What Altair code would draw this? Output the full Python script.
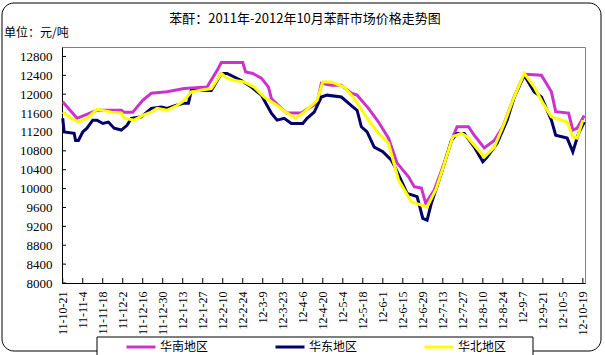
import altair as alt
import pandas as pd

title_text = "苯酐：2011年-2012年10月苯酐市场价格走势图"
unit_text = "单位：元/吨"
start_date = "2011-10-21"
series_names = ["华南地区", "华东地区", "华北地区"]
series_colors = ["#CC33CC", "#000066", "#FFFF00"]

# 华南地区 (days after start, price)
south_days = [0, 10, 24, 41, 43, 49, 56, 62, 73, 85, 101, 108, 111, 126, 128, 133, 139, 144, 146, 153, 157,
              167, 172, 178, 181, 188, 195, 202, 206, 214, 221, 228, 234, 242, 246, 251, 254, 260, 267, 273,
              276, 284, 288, 295, 302, 308, 315, 321, 324, 335, 342, 345, 354, 357, 360, 365]
south_vals = [11840, 11490, 11660, 11660, 11620, 11620, 11870, 12020, 12050, 12120, 12150, 12500, 12670, 12670,
              12470, 12440, 12340, 12150, 11910, 11700, 11600, 11600, 11700, 11810, 12230, 12190, 12190, 12020,
              11980, 11700, 11410, 11070, 10540, 10250, 10040, 10010, 9690, 9970, 10540, 11100, 11310, 11310,
              11130, 10860, 11020, 11310, 11870, 12290, 12420, 12400, 12050, 11630, 11600, 11240, 11280, 11550]

# 华东地区
east_days = [0, 1, 8, 9, 11, 14, 17, 21, 24, 28, 32, 36, 41, 45, 48, 55, 62, 69, 73, 79, 85, 88, 90, 104, 111,
             115, 125, 132, 139, 146, 150, 155, 160, 168, 171, 176, 181, 185, 195, 202, 206, 209, 213, 218, 224,
             230, 233, 241, 248, 252, 255, 258, 265, 272, 276, 281, 288, 294, 297, 304, 311, 316, 323, 330, 335,
             342, 345, 353, 357, 361, 365]
east_vals = [11490, 11200, 11170, 11020, 11020, 11200, 11280, 11450, 11450, 11380, 11410, 11280, 11240, 11340,
             11490, 11520, 11700, 11730, 11700, 11760, 11810, 11810, 12080, 12080, 12440, 12440, 12290, 12150,
             11980, 11600, 11450, 11490, 11380, 11380, 11490, 11620, 11940, 11980, 11940, 11760, 11660, 11310,
             11200, 10880, 10780, 10600, 10430, 9900, 9830, 9370, 9330, 9690, 10330, 11020, 11170, 11170, 10880,
             10570, 10670, 10960, 11450, 11940, 12400, 12050, 11940, 11450, 11130, 11070, 10780, 11170, 11410]

# 华北地区
north_days = [0, 6, 11, 17, 24, 34, 41, 43, 50, 56, 62, 66, 73, 80, 85, 90, 104, 111, 115, 120, 127, 134, 141,
              150, 157, 163, 169, 178, 182, 188, 197, 204, 213, 221, 228, 235, 244, 251, 255, 261, 266, 273, 279,
              283, 295, 302, 309, 315, 323, 330, 336, 342, 353, 357, 360, 364]
north_vals = [11620, 11490, 11410, 11490, 11680, 11620, 11600, 11490, 11450, 11550, 11620, 11700, 11660, 11760,
              11870, 12050, 12120, 12440, 12340, 12290, 12260, 12150, 11940, 11760, 11600, 11490, 11620, 11870,
              12260, 12260, 12150, 11910, 11490, 11170, 10960, 10180, 9720, 9650, 9610, 9970, 10430, 11100, 11170,
              11100, 10670, 10880, 11380, 11870, 12440, 12150, 11810, 11520, 11410, 11100, 11070, 11450]

tick_dates = ["2011-10-21", "2011-11-04", "2011-11-18", "2011-12-02", "2011-12-16", "2011-12-30",
              "2012-01-13", "2012-01-27", "2012-02-10", "2012-02-24", "2012-03-09", "2012-03-23",
              "2012-04-06", "2012-04-20", "2012-05-04", "2012-05-18", "2012-06-01", "2012-06-15",
              "2012-06-29", "2012-07-13", "2012-07-27", "2012-08-10", "2012-08-24", "2012-09-07",
              "2012-09-21", "2012-10-05", "2012-10-19"]
y_ticks = [8000, 8400, 8800, 9200, 9600, 10000, 10400, 10800, 11200, 11600, 12000, 12400, 12800]
y_domain = [8000, 13000]
x_domain = ["2011-10-20T12:00:00", "2012-10-20T12:00:00"]


def to_date(d):
    return (pd.Timestamp(start_date) + pd.Timedelta(days=d)).strftime("%Y-%m-%d")


def to_ms(s):
    return int(pd.Timestamp(s, tz="UTC").timestamp() * 1000)


rows = []
for name, days, vals in zip(series_names, [south_days, east_days, north_days],
                            [south_vals, east_vals, north_vals]):
    for d, v in zip(days, vals):
        rows.append({"date": to_date(d), "price": v, "region": name, "order": series_names.index(name)})
df = pd.DataFrame(rows)

W, H = 523, 236
serif = "Liberation Serif"
cjk = "Noto Sans CJK SC"

x_enc = alt.X("date:T", title=None,
              scale=alt.Scale(type="utc", domain=[to_ms(x_domain[0]), to_ms(x_domain[1])]),
              axis=alt.Axis(values=[to_ms(t) for t in tick_dates],
                            labelExpr="utcFormat(datum.value, '%y-%-m-%-d')",
                            labelAngle=270, labelFont=serif, labelFontSize=12, labelColor="black",
                            labelPadding=8, tickSize=0, domainColor="black", grid=False,
                            labelOverlap=False, labelBound=False, labelFlush=False))
y_enc = alt.Y("price:Q", title=None, scale=alt.Scale(domain=y_domain, nice=False, zero=False),
              axis=alt.Axis(values=y_ticks, format="d", labelFont=serif, labelFontSize=13,
                            labelColor="black", labelPadding=10, tickSize=0, domainColor="black",
                            grid=False, labelOverlap=False, labelFlush=False))

lines = alt.Chart(df).mark_line(strokeWidth=3, interpolate="linear").encode(
    x=x_enc, y=y_enc,
    color=alt.Color("region:N", scale=alt.Scale(domain=series_names, range=series_colors),
                    legend=alt.Legend(orient="none", legendX=63, legendY=284, direction="horizontal",
                                      title=None, symbolType="stroke", symbolSize=841,
                                      symbolStrokeWidth=3, labelFont=cjk, labelFontSize=12,
                                      labelColor="black", columnPadding=60, labelOffset=3,
                                      padding=0, zindex=1)),
    order=alt.Order("order:Q"),
)

ytick_df = pd.DataFrame({"price": y_ticks})
ytick_rules = alt.Chart(ytick_df).mark_rule(color="black", strokeWidth=1).encode(
    y=y_enc, x=alt.value(0), x2=alt.value(4))

xtick_df = pd.DataFrame({"date": tick_dates})
xtick_rules = alt.Chart(xtick_df).mark_rule(color="black", strokeWidth=1).encode(
    x=x_enc, y=alt.value(H - 5), y2=alt.value(H))

one = pd.DataFrame({"t": [title_text], "u": [unit_text]})
border = alt.Chart(one).mark_rect(fill=None, fillOpacity=0, stroke="black", strokeWidth=1,
                                  cornerRadius=12).encode(
    x=alt.value(2 - 62), x2=alt.value(601 - 62), y=alt.value(3 - 47), y2=alt.value(351 - 47))
legend_box = alt.Chart(one).mark_rect(fill="white", stroke="black", strokeWidth=1).encode(
    x=alt.value(97 - 62), x2=alt.value(533 - 62), y=alt.value(337 - 47), y2=alt.value(362 - 47))
title = alt.Chart(one).mark_text(font=cjk, fontSize=13, align="center", baseline="middle",
                                 color="black").encode(
    text="t:N", x=alt.value(305 - 62), y=alt.value(19 - 47))
unit = alt.Chart(one).mark_text(font=cjk, fontSize=12, align="left", baseline="middle",
                                color="black").encode(
    text="u:N", x=alt.value(4 - 62), y=alt.value(33 - 47))

chart = alt.layer(border, xtick_rules, ytick_rules, lines, legend_box, title, unit).properties(
    width=W, height=H,
    autosize="none",
    padding={"left": 62, "top": 47, "right": 20, "bottom": 72},
    background="white",
).configure_view(stroke="#808080", strokeWidth=1)

chart.save("out.html", embed_options={"renderer": "svg", "actions": False})
